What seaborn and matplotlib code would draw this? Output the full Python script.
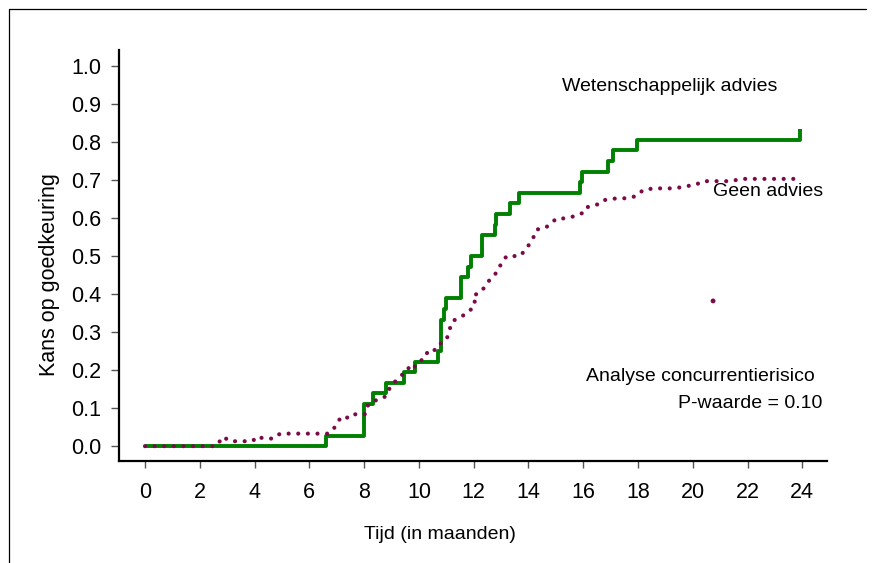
import pandas as pd
import seaborn as sns
import matplotlib.pyplot as plt
from matplotlib.lines import Line2D

# Wetenschappelijk advies (green step curve)
advies_tijd = [0, 6.6, 8.0, 8.33, 8.8, 9.46, 9.87, 10.68, 10.8, 10.9, 11.0, 11.52, 11.78,
               11.92, 12.29, 12.77, 12.83, 13.32, 13.66, 15.88, 15.94, 16.89, 17.07, 17.98, 23.93]
advies_kans = [0.0, 0.028, 0.111, 0.139, 0.167, 0.194, 0.222, 0.25, 0.333, 0.361, 0.389, 0.444,
               0.472, 0.5, 0.556, 0.583, 0.611, 0.639, 0.667, 0.694, 0.722, 0.75, 0.778, 0.806, 0.833]

# Geen advies (purple dotted curve)
geen_tijd = [0, 2.6, 2.85, 3.1, 3.7, 3.95, 4.05, 4.38, 4.7, 4.93, 6.69, 6.87, 7.02, 7.14, 7.21,
             7.48, 7.7, 8.03, 8.07, 8.15, 8.31, 8.46, 8.76, 8.88, 8.94, 9.06, 9.31, 9.43, 9.49,
             9.67, 9.79, 9.91, 10.04, 10.22, 10.34, 10.64, 10.82, 11.0, 11.1, 11.15, 11.25, 11.43,
             11.74, 11.88, 12.06, 11.97, 12.29, 12.45, 12.68, 12.86, 12.96, 13.1, 13.2, 13.69,
             13.93, 14.11, 14.23, 14.3, 14.6, 14.75, 15.03, 15.33, 15.69, 16.0, 16.1, 16.48,
             16.67, 16.91, 17.24, 17.62, 17.94, 18.19, 18.58, 19.34, 19.77, 20.1, 20.35, 21.41,
             21.75, 23.87]
geen_kans = [0.0, 0.0, 0.025, 0.013, 0.013, 0.014, 0.025, 0.02, 0.02, 0.033, 0.033, 0.044, 0.06,
             0.075, 0.079, 0.073, 0.085, 0.084, 0.10, 0.108, 0.112, 0.123, 0.13, 0.14, 0.156,
             0.165, 0.182, 0.191, 0.2, 0.207, 0.2, 0.218, 0.224, 0.231, 0.253, 0.253, 0.272,
             0.279, 0.30, 0.314, 0.33, 0.336, 0.349, 0.358, 0.375, 0.395, 0.407, 0.425, 0.446,
             0.458, 0.474, 0.489, 0.5, 0.5, 0.52, 0.54, 0.556, 0.57, 0.573, 0.582, 0.599, 0.599,
             0.605, 0.614, 0.628, 0.634, 0.646, 0.649, 0.652, 0.652, 0.658, 0.674, 0.678, 0.678,
             0.684, 0.687, 0.697, 0.697, 0.703, 0.703]

# stray dot in the original figure
los_tijd = [20.74]
los_kans = [0.382]

x_ticks = list(range(0, 25, 2))
y_ticks = [0.0, 0.1, 0.2, 0.3, 0.4, 0.5, 0.6, 0.7, 0.8, 0.9, 1.0]

green = '#008000'
purple = '#7a0b48'

sns.set_theme(style='white')
plt.rcParams['font.family'] = ['Liberation Sans', 'DejaVu Sans']
plt.rcParams['text.color'] = 'black'
plt.rcParams['axes.labelcolor'] = 'black'

fig = plt.figure(figsize=(8.72, 5.63), dpi=100)
ax = fig.add_axes([119 / 872, 1 - 461 / 563, (827 - 119) / 872, (461 - 50) / 563])

df_adv = pd.DataFrame({'tijd': advies_tijd, 'kans': advies_kans})
df_geen = pd.DataFrame({'tijd': geen_tijd, 'kans': geen_kans})

sns.lineplot(data=df_geen, x='tijd', y='kans', ax=ax, color=purple, lw=3.0,
             estimator=None, sort=False, zorder=3)
sns.lineplot(data=df_adv, x='tijd', y='kans', ax=ax, color=green, lw=2.8,
             drawstyle='steps-post', estimator=None, sort=False, zorder=2)
sns.scatterplot(x=los_tijd, y=los_kans, ax=ax, color=purple, s=12, edgecolor='none', zorder=3)

# dotted style for "geen advies"
geen_line = ax.lines[0]
geen_line.set_linestyle((0, (0.01, 2.3)))
geen_line.set_dash_capstyle('round')
ax.lines[1].set_solid_capstyle('butt')

ax.set_xlim(-0.95, 24.9)
ax.set_ylim(-0.039, 1.042)
ax.set_xticks(x_ticks)
ax.set_yticks(y_ticks)
ax.set_yticklabels([f'{v:.1f}' for v in y_ticks])

for side in ['top', 'right']:
    ax.spines[side].set_visible(False)
for side in ['left', 'bottom']:
    ax.spines[side].set_color('black')
    ax.spines[side].set_linewidth(1.6)

ax.tick_params(axis='y', direction='out', length=6, width=1, color='#555555',
               labelcolor='black', labelsize=15.5, pad=7, left=True)
ax.tick_params(axis='x', direction='out', length=5, width=1, color='#555555',
               labelcolor='black', labelsize=15.5, pad=10, bottom=True)

ax.set_xlabel('Tijd (in maanden)', fontsize=14, labelpad=17, x=0.453)
ax.set_ylabel('Kans op goedkeuring', fontsize=15.5, labelpad=8, y=0.453)

ax.text(19.16, 0.945, 'Wetenschappelijk advies', fontsize=14, ha='center', va='center')
ax.text(20.73, 0.671, 'Geen advies', fontsize=14, ha='left', va='center')
ax.text(24.45, 0.182, 'Analyse concurrentierisico', fontsize=14, ha='right', va='center')
ax.text(24.74, 0.113, 'P-waarde = 0.10', fontsize=14, ha='right', va='center')

# frame lines of the original figure (top and left only)
fig.add_artist(Line2D([9 / 872, 866 / 872], [1 - 9 / 563, 1 - 9 / 563],
                      transform=fig.transFigure, color='black', lw=0.9))
fig.add_artist(Line2D([9 / 872, 9 / 872], [1 - 9 / 563, 0],
                      transform=fig.transFigure, color='black', lw=0.9))

fig.savefig('out.png', dpi=100)
